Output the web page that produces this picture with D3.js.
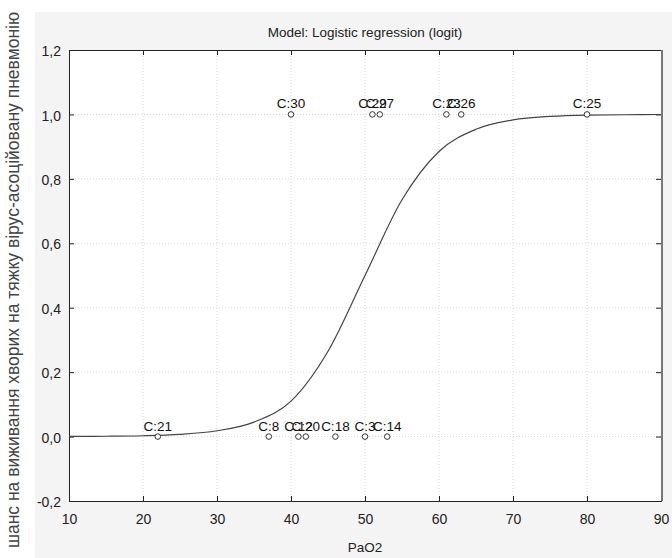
<!DOCTYPE html>
<html>
<head>
<meta charset="utf-8">
<script src="https://cdn.jsdelivr.net/npm/d3@7"></script>
<style>
  body { margin: 0; background: #fff; }
  svg text { font-family: "Liberation Sans", Arial, sans-serif; }
</style>
</head>
<body>
<div id="chart"></div>
<script>
// cases: PaO2 and outcome (1 = survived)
var caseLabels = ['C:21', 'C:8', 'C:12', 'C:20', 'C:18', 'C:3', 'C:14',
                  'C:30', 'C:29', 'C:27', 'C:23', 'C:26', 'C:25'];
var caseX = [22, 37, 41, 42, 46, 50, 53, 40, 51, 52, 61, 63, 80];
var caseY = [0, 0, 0, 0, 0, 0, 0, 1, 1, 1, 1, 1, 1];

// fitted logit curve
var curveX = [10, 15, 20, 25, 30, 35, 40, 45, 50, 55, 60, 65, 70, 75, 80, 85, 90];
var curveP = [0.0004, 0.001, 0.0026, 0.007, 0.018, 0.045, 0.11, 0.265, 0.5,
              0.735, 0.885, 0.954, 0.983, 0.994, 0.998, 0.999, 0.9997];

var xTicks = [10, 20, 30, 40, 50, 60, 70, 80, 90];
var yTicks = [-0.2, 0, 0.2, 0.4, 0.6, 0.8, 1.0, 1.2];

var width = 672, height = 558;
var margin = { left: 69, right: 11, top: 50, bottom: 57 };

var svg = d3.select('#chart').append('svg')
  .attr('width', width)
  .attr('height', height);

// grey panel
svg.append('rect')
  .attr('x', 35).attr('y', 12)
  .attr('width', width - 35).attr('height', height - 12)
  .attr('fill', '#f3f4f3');

var x = d3.scaleLinear().domain([10, 90]).range([margin.left, width - margin.right]);
var y = d3.scaleLinear().domain([-0.2, 1.2]).range([height - margin.bottom, margin.top]);

var fmt = function(d) { return d3.format('.1f')(d).replace('.', ',').replace('−', '-'); };

svg.append('rect')
  .attr('x', x(10)).attr('y', y(1.2))
  .attr('width', x(90) - x(10)).attr('height', y(-0.2) - y(1.2))
  .attr('fill', '#fff');

// grid
svg.append('g').selectAll('line')
  .data(xTicks.slice(1, -1)).enter().append('line')
  .attr('x1', function(d) { return x(d); }).attr('x2', function(d) { return x(d); })
  .attr('y1', y(1.2)).attr('y2', y(-0.2))
  .attr('stroke', '#d8d8d8').attr('stroke-dasharray', '1,2');
svg.append('g').selectAll('line')
  .data(yTicks.slice(1, -1)).enter().append('line')
  .attr('y1', function(d) { return y(d); }).attr('y2', function(d) { return y(d); })
  .attr('x1', x(10)).attr('x2', x(90))
  .attr('stroke', '#d8d8d8').attr('stroke-dasharray', '1,2');

// axes
var xAxis = svg.append('g')
  .attr('transform', 'translate(0,' + y(-0.2) + ')')
  .call(d3.axisBottom(x).tickValues(xTicks).tickSize(-5).tickPadding(13).tickFormat(d3.format('d')));
var xTop = svg.append('g')
  .attr('transform', 'translate(0,' + y(1.2) + ')')
  .call(d3.axisTop(x).tickValues(xTicks).tickSize(-5).tickFormat(''));
var yAxis = svg.append('g')
  .attr('transform', 'translate(' + x(10) + ',0)')
  .call(d3.axisLeft(y).tickValues(yTicks).tickSize(-5).tickPadding(8).tickFormat(fmt));
var yRight = svg.append('g')
  .attr('transform', 'translate(' + x(90) + ',0)')
  .call(d3.axisRight(y).tickValues(yTicks).tickSize(-5).tickFormat(''));

[xAxis, xTop, yAxis, yRight].forEach(function(a) {
  a.selectAll('path.domain').attr('stroke', '#222');
  a.selectAll('.tick line').attr('stroke', '#222');
  a.selectAll('text').attr('font-size', 14).attr('fill', '#222')
    .attr('font-family', '"Liberation Sans", Arial, sans-serif');
});
yAxis.selectAll('text').attr('dy', '0.4em');

// shade on right frame edge
svg.append('line')
  .attr('x1', x(90) + 1).attr('x2', x(90) + 1)
  .attr('y1', y(1.2)).attr('y2', y(-0.2))
  .attr('stroke', '#777').attr('stroke-width', 2);

// logit curve
var line = d3.line()
  .x(function(d, i) { return x(curveX[i]); })
  .y(function(d) { return y(d); })
  .curve(d3.curveMonotoneX);
svg.append('path')
  .datum(curveP)
  .attr('d', line)
  .attr('fill', 'none')
  .attr('stroke', '#444')
  .attr('stroke-width', 1.2);

// points
var pts = svg.append('g').selectAll('g')
  .data(caseX).enter().append('g');
pts.append('circle')
  .attr('cx', function(d) { return x(d); })
  .attr('cy', function(d, i) { return y(caseY[i]); })
  .attr('r', 2.8)
  .attr('fill', '#fff')
  .attr('stroke', '#333')
  .attr('stroke-width', 1);
pts.append('text')
  .attr('x', function(d) { return x(d); })
  .attr('y', function(d, i) { return y(caseY[i]) - 6; })
  .attr('text-anchor', 'middle')
  .attr('font-size', 13.5)
  .attr('fill', '#111')
  .text(function(d, i) { return caseLabels[i]; });

// titles
svg.append('text')
  .attr('x', (x(10) + x(90)) / 2).attr('y', 37)
  .attr('text-anchor', 'middle')
  .attr('font-size', 13.5)
  .attr('fill', '#222')
  .text('Model: Logistic regression (logit)');

svg.append('text')
  .attr('x', (x(10) + x(90)) / 2).attr('y', 552)
  .attr('text-anchor', 'middle')
  .attr('font-size', 13.5)
  .attr('fill', '#222')
  .text('PaO2');

svg.append('text')
  .attr('transform', 'translate(19,' + 280 + ') rotate(-90)')
  .attr('text-anchor', 'middle')
  .attr('font-size', 17.5)
  .attr('fill', '#444')
  .text('шанс на виживання хворих на тяжку вірус-асоційовану пневмонію');
</script>
</body>
</html>
